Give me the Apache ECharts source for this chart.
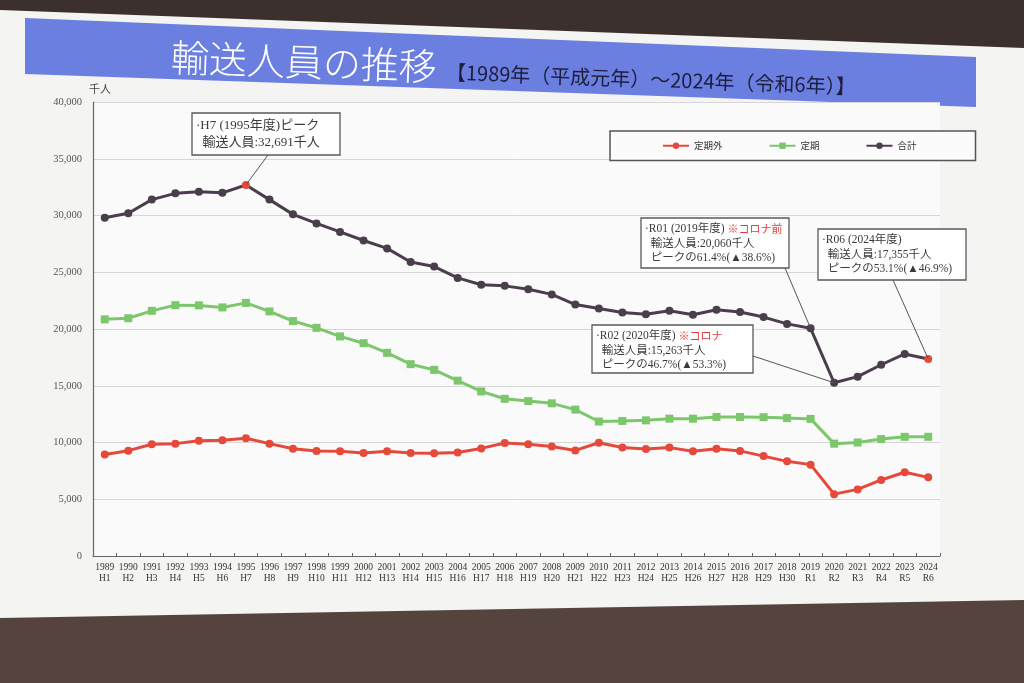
<!DOCTYPE html>
<html>
<head>
<meta charset="utf-8">
<script src="https://cdn.jsdelivr.net/npm/echarts@6/dist/echarts.min.js"></script>
<style>
html,body{margin:0;padding:0;background:#3b302e;}
#c{width:1024px;height:683px;}
</style>
</head>
<body>
<div id="c"></div>
<script>
// ---- data (千人) ----
const years = ['1989','1990','1991','1992','1993','1994','1995','1996','1997','1998','1999','2000','2001','2002','2003','2004','2005','2006','2007','2008','2009','2010','2011','2012','2013','2014','2015','2016','2017','2018','2019','2020','2021','2022','2023','2024'];
const eras = ['H1','H2','H3','H4','H5','H6','H7','H8','H9','H10','H11','H12','H13','H14','H15','H16','H17','H18','H19','H20','H21','H22','H23','H24','H25','H26','H27','H28','H29','H30','R1','R2','R3','R4','R5','R6'];
const teikigai = [8950,9280,9850,9900,10150,10200,10370,9900,9450,9250,9230,9070,9220,9080,9060,9120,9480,9960,9850,9640,9300,9980,9560,9430,9550,9220,9440,9260,8800,8340,8050,5450,5870,6700,7380,6930];
const teiki = [20850,20950,21600,22100,22080,21900,22300,21550,20700,20100,19350,18750,17900,16900,16400,15450,14500,13850,13650,13450,12900,11850,11900,11950,12100,12100,12250,12250,12230,12150,12080,9900,10000,10300,10500,10500];
const total = [29800,30200,31400,31950,32100,32000,32691,31400,30100,29300,28550,27800,27100,25900,25500,24500,23900,23800,23500,23050,22150,21800,21450,21300,21600,21250,21700,21500,21050,20450,20060,15263,15800,16850,17800,17355];
const seriesNames = ['定期外','定期','合計'];
const highlightYears = ['1995','2024'];
const calloutYears = ['1995','2019','2020','2024'];

const RED = '#e5493b', GREEN = '#7cc66b', DARK = '#4a3e4c';
const serifFont = "'Liberation Serif','Noto Sans CJK JP',serif";
const cjk = "'Noto Sans CJK JP',sans-serif";

const chart = echarts.init(document.getElementById('c'));

function callout(id, x, y, w, h, lines, fs, lh) {
  return [
    {type:'rect', id:id+'_r', z:50, shape:{x:x,y:y,width:w,height:h},
     style:{fill:'#ffffff', stroke:'#5a5a5a', lineWidth:1.3}},
    {type:'text', id:id+'_t', z:51, x:x+4, y:y+4,
     style:{text:lines.join('\n'), font:fs+'px '+serifFont, fill:'#3a3a3a', lineHeight:lh,
            rich:{r:{fill:'#e23b3b', fontSize:fs-0.5, fontFamily:cjk, lineHeight:lh}}}}
  ];
}

const idx = y => years.indexOf(y);
const leader = (yr, px, py) => [{coord:[yr, total[idx(yr)]]}, {x:px, y:py}];

const graphics = [
  {type:'polygon', id:'slide', z:-20, shape:{points:[[0,10],[1024,48],[1024,600],[0,618]]},
   style:{fill:'#f4f4f3'}},
  {type:'rect', id:'bottom', z:-21, shape:{x:0,y:560,width:1024,height:123}, style:{fill:'#55443e'}},
  {type:'polygon', id:'banner', z:-5, shape:{points:[[25,18],[976,57],[976,107],[25,74]]},
   style:{fill:'#6b7fe0'}},
  {type:'text', id:'title', z:10, x:171, y:57, rotation:-0.036,
   style:{text:'輸送人員の推移', font:'300 38px '+cjk, fill:'#ffffff', verticalAlign:'middle', align:'left',
          shadowColor:'rgba(0,0,0,0.25)', shadowBlur:2}},
  {type:'text', id:'subtitle', z:10, x:446, y:72, rotation:-0.035,
   style:{text:'【1989年（平成元年）～2024年（令和6年）】', font:'20px '+cjk, fill:'#1d1d3d', verticalAlign:'middle', align:'left'}}
]
.concat(callout('c1', 192, 113, 148, 42, ['·H7 (1995年度)ピーク', '  輸送人員:32,691千人'], 13, 17))
.concat(callout('c2', 641, 218, 148, 50, ['·R01 (2019年度) {r|※コロナ前}', '  輸送人員:20,060千人', '  ピークの61.4%(▲38.6%)'], 11.5, 14.5))
.concat(callout('c3', 818, 229, 148, 51, ['·R06 (2024年度)', '  輸送人員:17,355千人', '  ピークの53.1%(▲46.9%)'], 11.5, 14.5))
.concat(callout('c4', 592, 325, 161, 48, ['·R02 (2020年度) {r|※コロナ}', '  輸送人員:15,263千人', '  ピークの46.7%(▲53.3%)'], 11.5, 14.5));

const option = {
  animation:false,
  backgroundColor:'transparent',
  textStyle:{fontFamily:cjk},
  graphic:{elements:graphics},
  grid:{left:93, right:84, top:102, bottom:127, backgroundColor:'#fafafa', show:true, borderWidth:0},
  legend:{
    data:seriesNames, left:610, top:131, orient:'horizontal',
    borderColor:'#555', borderWidth:1.5, backgroundColor:'#fbfbfb',
    padding:[10,59,10,52], itemGap:46, itemWidth:26, itemHeight:8,
    textStyle:{fontSize:9.5, color:'#333', fontFamily:cjk}
  },
  xAxis:{
    type:'category', data:years, boundaryGap:true,
    axisLine:{lineStyle:{color:'#666', width:1.2}},
    axisTick:{show:true, inside:true, length:3, lineStyle:{color:'#666'}},
    axisLabel:{interval:0, margin:6, fontSize:9.5, lineHeight:11, color:'#333', fontFamily:serifFont,
      formatter:(v)=> v + '\n' + eras[years.indexOf(v)]},
    splitLine:{show:false}
  },
  yAxis:{
    type:'value', min:0, max:40000, interval:5000,
    name:'千人', nameLocation:'end', nameGap:8,
    nameTextStyle:{fontSize:11, color:'#444', fontFamily:cjk, padding:[0,0,0,14]},
    axisLine:{show:true, lineStyle:{color:'#666', width:1.2}},
    axisTick:{show:false},
    axisLabel:{fontSize:10.5, color:'#555', margin:11, fontFamily:serifFont,
      formatter:(v)=> v.toLocaleString('en-US')},
    splitLine:{lineStyle:{color:'#d6d6d6', width:1}}
  },
  series:[
    {name:'定期外', type:'line', data:teikigai, symbol:'circle', symbolSize:8,
     lineStyle:{color:RED, width:3}, itemStyle:{color:RED}, z:3},
    {name:'定期', type:'line', data:teiki, symbol:'rect', symbolSize:8,
     lineStyle:{color:GREEN, width:3}, itemStyle:{color:GREEN}, z:3},
    {name:'合計', type:'line', symbol:'circle', symbolSize:8,
     data: total.map((v,i)=> highlightYears.includes(years[i]) ? {value:v, itemStyle:{color:RED}} : v),
     lineStyle:{color:DARK, width:3}, itemStyle:{color:DARK}, z:4,
     markLine:{silent:true, symbol:['none','none'], label:{show:false},
       lineStyle:{color:'#555', width:1, type:'solid'}, z:5,
       data:[
         leader(calloutYears[0], 268, 155),
         leader(calloutYears[1], 785, 268),
         leader(calloutYears[2], 753, 356),
         leader(calloutYears[3], 893, 280)
       ]}
    }
  ]
};
chart.setOption(option);
</script>
</body>
</html>
